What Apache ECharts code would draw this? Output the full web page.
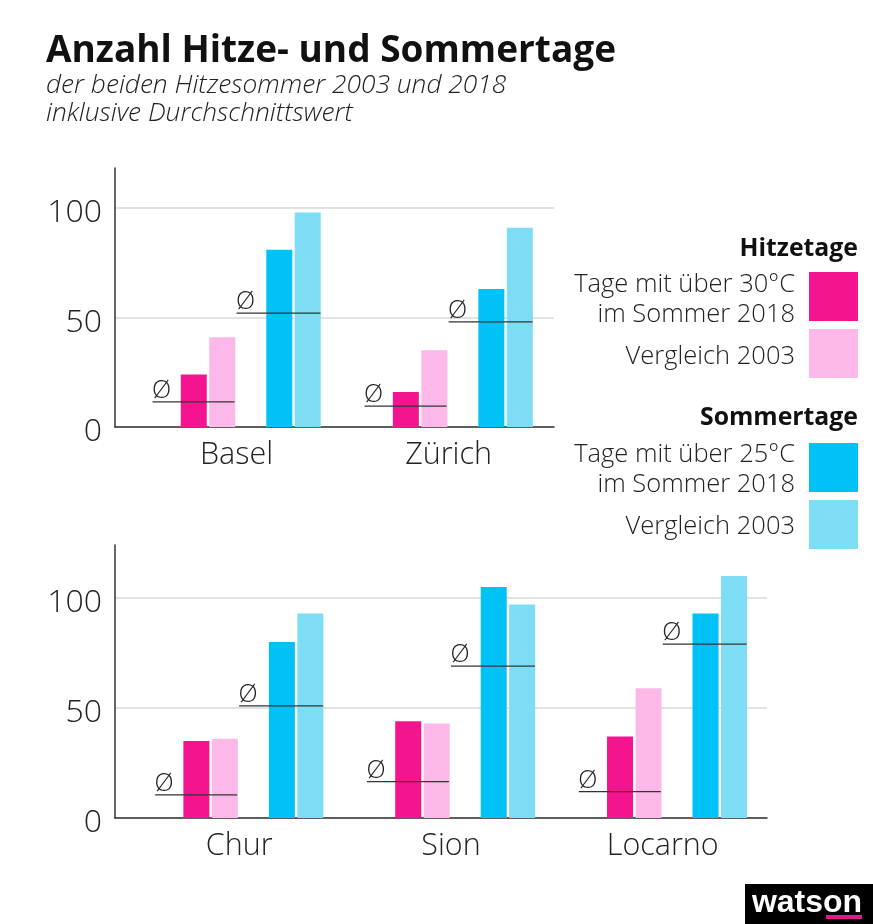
<!DOCTYPE html>
<html>
<head>
<meta charset="utf-8">
<style>html,body{margin:0;padding:0;background:#fff}#main{width:873px;height:924px}</style>
<script src="https://cdn.jsdelivr.net/npm/echarts@6/dist/echarts.min.js"></script>
</head>
<body>
<div id="main"></div>
<script>
var citiesTop = ['Basel', 'Zürich'];
var hitze2018Top = [24, 16];
var hitze2003Top = [41, 35];
var sommer2018Top = [81, 63];
var sommer2003Top = [98, 91];
var hitzeAvgTop = [11.5, 9.5];
var sommerAvgTop = [52, 48];

var citiesBottom = ['Chur', 'Sion', 'Locarno'];
var hitze2018Bottom = [35, 44, 37];
var hitze2003Bottom = [36, 43, 59];
var sommer2018Bottom = [80, 105, 93];
var sommer2003Bottom = [93, 97, 110];
var hitzeAvgBottom = [10.5, 16.5, 12];
var sommerAvgBottom = [51, 69, 79];

var pink = '#f5148f', pinkLight = '#fdb8ea', blue = '#00c2f7', blueLight = '#7dddf5';
var font = '"Open Sans"';

// x axis is counted in cities (1 = 212px), so the bars can sit off the label centre
function pairs(vals){
	return vals.map(function(v, i){ return [i, v]; });
}
function bar(name, vals, color, idx){
	return {name:name, type:'bar', xAxisIndex:idx, yAxisIndex:idx, data:pairs(vals), barWidth:26, barGap:'9.6%',
		itemStyle:{color:color}, silent:true};
}
// empty slots keep the gap between the two bar pairs
function spacer(idx){
	return {type:'bar', xAxisIndex:idx, yAxisIndex:idx, data:[], barWidth:26, barGap:'9.6%', silent:true};
}
function avgLine(name, vals, idx, fromPx, toPx){
	return {name:name, type:'custom', xAxisIndex:idx, yAxisIndex:idx, z:5, silent:true, data:pairs(vals),
		renderItem:function(params, api){
			var p = api.coord([api.value(0), api.value(1)]);
			return {type:'group', children:[
				{type:'line', shape:{x1:p[0]+fromPx, y1:p[1], x2:p[0]+toPx, y2:p[1]}, style:{stroke:'#333', lineWidth:1.2}},
				{type:'text', style:{x:p[0]+fromPx+9, y:p[1]-11, text:'Ø', fontFamily:font, fontWeight:300, fontSize:25, fill:'#222', align:'center', verticalAlign:'middle'}}
			]};
		}};
}
function panelSeries(idx, h18, h03, s18, s03, hAvg, sAvg){
	return [spacer(idx), bar('Tage mit über 30°C im Sommer 2018', h18, pink, idx), bar('Hitzetage Vergleich 2003', h03, pinkLight, idx),
		spacer(idx), bar('Tage mit über 25°C im Sommer 2018', s18, blue, idx), bar('Sommertage Vergleich 2003', s03, blueLight, idx),
		avgLine('Ø Hitzetage', hAvg, idx, -84, -2), avgLine('Ø Sommertage', sAvg, idx, 0, 84)];
}
function xAxis(idx, cities, min, max){
	return {type:'value', gridIndex:idx, min:min, max:max, splitLine:{show:false},
		axisLine:{show:true, onZero:false, lineStyle:{color:'#333', width:1.5}}, axisTick:{show:false},
		axisLabel:{customValues:cities.map(function(c, i){ return i; }), formatter:function(v){ return cities[v]; },
			fontFamily:font, fontWeight:300, fontSize:30.5, color:'#222', margin:13}};
}
function yAxis(idx, max){
	return {type:'value', gridIndex:idx, min:0, max:max, interval:50,
		axisLine:{show:true, onZero:false, lineStyle:{color:'#333', width:1.5}}, axisTick:{show:false},
		splitLine:{show:true, showMaxLine:false, lineStyle:{color:'#d9d9d9', width:1.5}},
		// small line box hung from the tick drops the digits a few px below the grid line
		axisLabel:{showMaxLabel:false, fontFamily:font, fontWeight:300, fontSize:32, color:'#222', margin:13, verticalAlign:'top', lineHeight:10}};
}
function legendText(text, y, weight){
	return {type:'text', style:{x:795, y:y, text:text, fontFamily:font, fontSize:25.5, fontWeight:weight||300, fill:'#222', align:'right', verticalAlign:'middle'}};
}
function legendHead(text, y){
	return {type:'text', style:{x:858, y:y, text:text, fontFamily:font, fontSize:24.8, fontWeight:700, fill:'#111', align:'right', verticalAlign:'middle'}};
}
function swatch(y, color){
	return {type:'rect', shape:{x:809, y:y, width:49, height:49}, style:{fill:color}};
}

var option = {
	animation:false,
	backgroundColor:'#fff',
	title:[
		{text:'Anzahl Hitze- und Sommertage', left:41, top:28, textStyle:{fontFamily:font, fontWeight:700, fontSize:37, color:'#111'}},
		{text:'der beiden Hitzesommer 2003 und 2018\ninklusive Durchschnittswert', left:41, top:67,
			textStyle:{fontFamily:font, fontStyle:'italic', fontWeight:300, fontSize:26.3, lineHeight:28, color:'#222'}}
	],
	grid:[
		{left:115, top:168, width:439, height:259},
		{left:115, top:545, width:652, height:273}
	],
	xAxis:[xAxis(0, citiesTop, -0.573, 1.497), xAxis(1, citiesBottom, -0.586, 2.492)],
	yAxis:[yAxis(0, 118.3), yAxis(1, 124.1)],
	series:panelSeries(0, hitze2018Top, hitze2003Top, sommer2018Top, sommer2003Top, hitzeAvgTop, sommerAvgTop)
		.concat(panelSeries(1, hitze2018Bottom, hitze2003Bottom, sommer2018Bottom, sommer2003Bottom, hitzeAvgBottom, sommerAvgBottom)),
	graphic:[
		legendHead('Hitzetage', 249),
		legendText('Tage mit über 30°C', 285), legendText('im Sommer 2018', 315), legendText('Vergleich 2003', 357),
		swatch(272, pink), swatch(329, pinkLight),
		legendHead('Sommertage', 418),
		legendText('Tage mit über 25°C', 455), legendText('im Sommer 2018', 485), legendText('Vergleich 2003', 527),
		swatch(443, blue), swatch(500, blueLight),
		{type:'rect', shape:{x:745, y:884, width:128, height:40}, style:{fill:'#000'}},
		{type:'text', style:{x:807, y:903, text:'watson', fontFamily:'"Liberation Sans"', fontWeight:700, fontSize:32, fill:'#fff', align:'center', verticalAlign:'middle'}},
		{type:'rect', shape:{x:826, y:915, width:36, height:4}, style:{fill:'#e6168f'}}
	]
};
echarts.init(document.getElementById('main')).setOption(option);
</script>
</body>
</html>
